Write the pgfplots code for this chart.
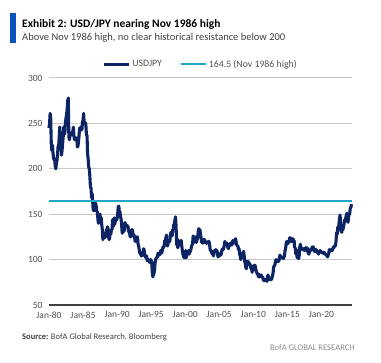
\documentclass[border=0pt]{standalone}
\usepackage{pgfplots}
\usepackage{pgfplotstable}
\pgfplotsset{compat=1.18}
\usepackage{fontspec}
\setmainfont{Carlito}
\definecolor{navy}{RGB}{12,36,100}
\definecolor{cyanline}{RGB}{34,166,200}
\definecolor{barblue}{RGB}{10,82,192}
\definecolor{gridgray}{RGB}{200,200,200}
\definecolor{ticktext}{RGB}{80,80,80}
\pgfplotstableread{
y
245
250
261
255
228
220
226
218
212
210
210
203
200
206
209
215
225
225
235
246
230
232
215
220
228
235
246
238
240
252
256
260
266
275
278
235
232
237
239
237
240
240
241
246
236
232
234
232
234
233
224
225
230
237
245
242
246
246
243
251
254
261
251
251
251
248
237
237
217
211
202
200
192
180
179
168
173
164
154
154
154
163
162
160
153
153
146
140
144
147
150
141
146
138
133
122
127
129
124
125
125
133
133
136
134
125
122
125
130
128
133
133
144
144
137
146
139
143
144
144
145
150
158
159
152
153
147
145
138
129
133
135
131
133
141
137
138
138
137
137
133
130
130
125
125
129
133
133
128
126
127
123
120
123
124
125
125
117
115
111
107
107
105
104
105
107
109
112
109
104
103
102
104
99
100
100
99
97
99
100
99
97
86
81
83
85
88
97
100
102
102
103
107
105
107
105
108
110
107
108
111
114
113
116
121
120
124
127
116
115
118
121
121
120
128
130
127
126
133
133
139
139
144
147
136
116
123
113
116
119
119
119
121
121
115
110
106
104
102
102
107
110
102
108
108
106
110
106
108
109
111
114
116
117
126
124
119
124
125
119
119
122
124
131
134
133
133
128
124
119
120
118
122
122
122
119
120
118
118
119
119
120
120
117
111
110
109
107
106
109
104
110
110
109
111
109
110
106
103
104
104
105
107
105
108
111
112
111
113
116
120
118
117
116
118
114
112
114
115
117
118
117
116
119
121
119
118
120
122
123
118
116
115
115
111
112
106
104
100
104
105
106
108
109
104
98
95
91
90
98
98
98
95
96
95
93
90
90
86
93
90
89
93
94
91
88
86
84
84
81
84
81
82
82
83
81
81
80
77
77
77
78
78
77
76
81
83
80
78
80
78
78
78
80
82
86
92
93
94
97
100
99
98
98
98
98
102
105
102
102
103
102
102
101
103
104
110
112
118
120
117
120
120
119
124
122
124
121
120
121
123
120
121
113
113
106
111
103
102
103
101
105
114
117
113
113
111
111
111
112
110
110
113
113
112
113
109
107
106
109
109
111
112
111
114
113
114
110
109
111
111
111
108
108
109
106
108
108
110
109
108
108
108
107
108
108
106
106
106
105
104
103
105
107
111
109
110
111
110
110
111
114
113
115
115
115
122
130
128
136
133
139
145
149
138
131
130
136
133
136
139
144
142
146
149
151
148
141
147
150
151
157
157
161
}\usdjpy
\begin{document}
\begin{tikzpicture}[x=1bp,y=1bp]
\path[use as bounding box] (0,0) rectangle (381,363);
\fill[barblue] (10,320) rectangle (15.5,350);
\node[anchor=base west,inner sep=0pt,font=\fontsize{11.5bp}{13bp}\selectfont\bfseries] at (22,336) {Exhibit 2: USD/JPY nearing Nov 1986 high};
\node[anchor=base west,inner sep=0pt,font=\fontsize{10.5bp}{12bp}\selectfont,text=ticktext!80!black] at (22,323) {Above Nov 1986 high, no clear historical resistance below 200};
\begin{axis}[
  at={(49bp,58bp)}, anchor=south west,
  scale only axis, width=303bp, height=227bp,
  xmin=1980, xmax=2024.5, ymin=50, ymax=300,
  xtick={1980,1985,1990,1995,2000,2005,2010,2015,2020},
  xticklabels={Jan-80,Jan-85,Jan-90,Jan-95,Jan-00,Jan-05,Jan-10,Jan-15,Jan-20},
  ytick={50,100,150,200,250,300},
  ymajorgrids, grid style={gridgray, line width=1bp},
  major tick length=0pt,
  axis line style={draw=none},
  /pgf/number format/assume math mode=true,
  tick label style={font=\fontsize{9.5bp}{11bp}\selectfont, text=ticktext},
  yticklabel style={xshift=-3bp},
  xticklabel style={yshift=-3bp},
  legend style={at={(0.5,1)}, anchor=south, yshift=5bp, draw=none, fill=none,
    font=\fontsize{9.8bp}{11bp}\selectfont, text=ticktext, legend columns=2,
    /tikz/every even column/.append style={column sep=16bp}},
  legend image code/.code={\draw[#1] (0bp,0bp) -- (25bp,0bp);},
  clip=false,
]
\addplot[navy, line width=3.1bp, line join=round] table[x expr=1980+\coordindex/12, y=y] {\usdjpy};
\addlegendentry{USDJPY}
\addplot[cyanline, line width=2bp] coordinates {(1980,164.5) (2024.5,164.5)};
\addlegendentry{164.5 (Nov 1986 high)}
\draw[black!75, line width=1.3bp] (axis cs:1980,50) -- (axis cs:2024.5,50);
\end{axis}
\node[anchor=base west,inner sep=0pt,font=\fontsize{8.5bp}{10bp}\selectfont,text=ticktext!80!black] at (22,24) {\textbf{Source:} BofA Global Research, Bloomberg};
\node[anchor=base east,inner sep=0pt,font=\fontsize{8.6bp}{10bp}\selectfont,text=black!45] at (355,13) {BofA GLOBAL RESEARCH};
\end{tikzpicture}
\end{document}
